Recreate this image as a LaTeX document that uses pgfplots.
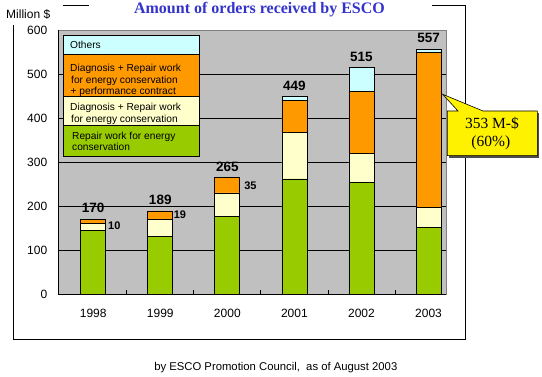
\documentclass[border=0pt]{standalone}
\usepackage{pgfplots}
\pgfplotsset{compat=1.18}
\usepackage{fontspec}
\setmainfont{Liberation Sans}
\newfontfamily\seriff{Liberation Serif}
\definecolor{cgreen}{RGB}{153,204,0}
\definecolor{cyellow}{RGB}{255,255,204}
\definecolor{corange}{RGB}{255,153,0}
\definecolor{ccyan}{RGB}{204,255,255}
\definecolor{cplot}{RGB}{192,192,192}
\definecolor{ctitle}{RGB}{51,51,204}
\definecolor{cborder}{RGB}{128,128,128}
\tikzset{tot/.style={font=\bfseries\fontsize{13.5}{15}\selectfont, inner sep=0pt, yshift=11pt},
  oval/.style={font=\bfseries\fontsize{11}{13}\selectfont, inner sep=0pt}}
\begin{document}
\begin{tikzpicture}[x=1pt,y=1pt]
\path[use as bounding box] (0,0) rectangle (542,377);
% outer frame
\draw[black, line width=0.8pt] (62.7,371.7)--(89.3,371.7);
\draw[black, line width=0.8pt] (431.7,371.7)--(465,371.7)--(465,37.7)--(13,37.7)--(13,352);
\begin{axis}[
  at={(58.3pt,83pt)}, anchor=south west, scale only axis,
  width=387.7pt, height=263.5pt,
  ybar stacked, bar width=25pt,
  xmin=-0.52, xmax=5.26, ymin=0, ymax=600,
  ytick={0,100,...,600},
  xtick={0,1,2,3,4,5}, xticklabels={1998,1999,2000,2001,2002,2003},
  major tick length=0pt,
  xtick pos=bottom, ytick pos=left,
  extra x ticks={0.5,1.5,2.5,3.5,4.5}, extra x tick labels={},
  extra x tick style={major tick length=4pt, tick align=inside},
  ymajorgrids, grid style={black, line width=0.8pt},
  axis line style={cborder, line width=0.8pt},
  axis background/.style={fill=cplot},
  ticklabel style={font=\fontsize{12}{14}\selectfont},
  yticklabel style={xshift=-7.5pt},
  xticklabel style={yshift=-12pt},
  /pgf/number format/assume math mode=true,
  tick style={black, line width=0.8pt},
  clip=false,
  every axis plot/.append style={draw=black, line width=0.8pt},
]
\addplot[fill=cgreen] coordinates {(0,145) (1,131) (2,177) (3,262) (4,253) (5,152)};
\addplot[fill=cyellow] coordinates {(0,15) (1,39) (2,53) (3,105) (4,68) (5,45)};
\addplot[fill=corange] coordinates {(0,10) (1,19) (2,35) (3,74) (4,140) (5,353)};
\addplot[fill=ccyan] coordinates {(0,0) (1,0) (2,0) (3,8) (4,54) (5,7)};
\draw[black, line width=0.8pt] (rel axis cs:0,1) -- (rel axis cs:0,0) -- (rel axis cs:1,0);
% totals
\node[tot] at (axis cs:0,170) {170};
\node[tot] at (axis cs:1,189) {189};
\node[tot] at (axis cs:2,265) {265};
\node[tot] at (axis cs:3,449) {449};
\node[tot] at (axis cs:4,515) {515};
\node[tot] at (axis cs:5,557) {557};
% orange values
\node[oval, anchor=west] at (axis cs:0.22,156) {10};
\node[oval, anchor=west] at (axis cs:1.20,180) {19};
\node[oval, anchor=west] at (axis cs:2.25,247) {35};
\node[oval] at (axis cs:3,394) {74};
\node[oval] at (axis cs:4.03,375) {140};
\end{axis}
% legend
\draw[fill=ccyan, line width=0.8pt] (63.3,323) rectangle (199,342);
\draw[fill=corange, line width=0.8pt] (63.3,280.7) rectangle (199,323);
\draw[fill=cyellow, line width=0.8pt] (63.3,251.7) rectangle (199,280.7);
\draw[fill=cgreen, line width=0.8pt] (63.3,221) rectangle (199,251.7);
\begin{scope}[every node/.style={anchor=base west, inner sep=0pt, font=\fontsize{10.2}{12}\selectfont}]
\node at (70,328.1) {Others};
\node at (70,305.7) {Diagnosis + Repair work};
\node at (71,293.4) {for energy conservation};
\node at (70.5,282.4) {+ performance contract};
\node at (70,266.7) {Diagnosis + Repair work};
\node at (71,254.7) {for energy conservation};
\node at (72,237.4) {Repair work for energy};
\node at (72,226.7) {conservation};
\end{scope}
% callout
\fill[black!70] (449.3,219.3) rectangle (539.3,264);
\draw[fill=yellow, line width=0.6pt] (447.3,221.3) -- (447.3,266) -- (458,266) -- (442.7,282.7) -- (483,266) -- (537.3,266) -- (537.3,221.3) -- cycle;
\node[font=\seriff\fontsize{15.5}{17}\selectfont, anchor=base, inner sep=0pt] at (492,248.6) {353 M-\$};
\node[font=\seriff\fontsize{15.5}{17}\selectfont, anchor=base, inner sep=0pt] at (490.8,230.2) {(60\%)};
% titles
\node[font=\seriff\bfseries\fontsize{16}{18}\selectfont, text=ctitle, anchor=base, inner sep=0pt] at (259.5,363) {Amount of orders received by ESCO};
\node[font=\fontsize{12}{14}\selectfont, anchor=base west, inner sep=0pt] at (6,358) {Million \$};
\node[font=\fontsize{11.3}{13}\selectfont, anchor=base, inner sep=0pt] at (275.8,6.3) {by ESCO Promotion Council,\ \ as of August 2003};
\end{tikzpicture}
\end{document}
